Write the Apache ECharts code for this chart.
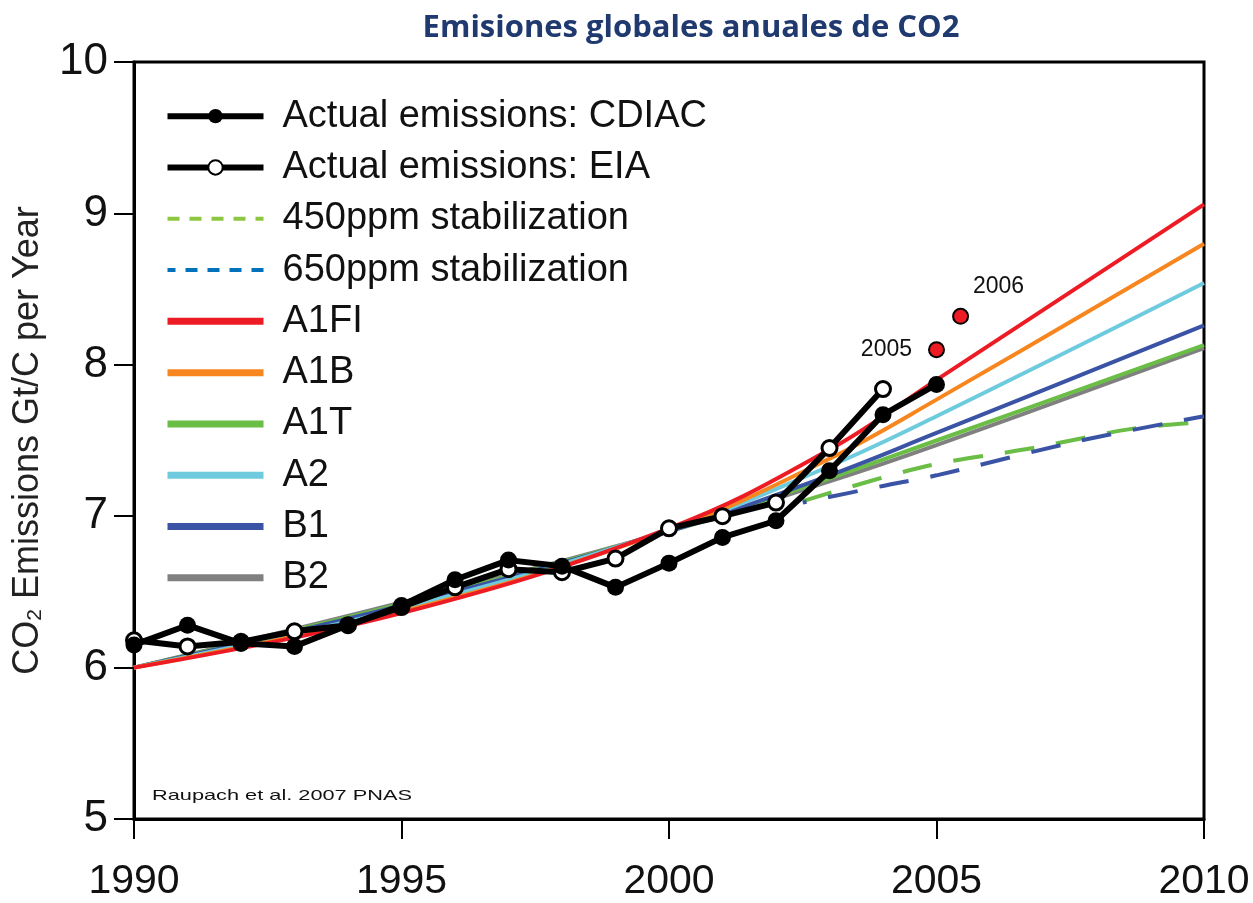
<!DOCTYPE html>
<html>
<head>
<meta charset="utf-8">
<script src="https://cdn.jsdelivr.net/npm/echarts@6/dist/echarts.min.js"></script>
<style>
  html, body { margin: 0; padding: 0; background: #fff; }
  #chart { width: 1253px; height: 903px; }
</style>
</head>
<body>
<div id="chart"></div>
<script>
// datos
var years = [1990, 1991, 1992, 1993, 1994, 1995, 1996, 1997, 1998, 1999, 2000, 2001, 2002, 2003, 2004, 2005];
var cdiac = [6.15, 6.28, 6.16, 6.14, 6.28, 6.41, 6.58, 6.71, 6.67, 6.53, 6.69, 6.86, 6.97, 7.30, 7.67, 7.87];
var eia = [6.18, 6.14, 6.17, 6.24, 6.28, 6.40, 6.53, 6.65, 6.63, 6.72, 6.92, 7.00, 7.09, 7.45, 7.84];

var scenYears = [1990, 1995, 2000, 2003, 2005, 2010];
var a1fi = [6.00, 6.36, 6.92, 7.44, 7.90, 9.06];
var a1b  = [6.00, 6.37, 6.91, 7.38, 7.77, 8.80];
var a1t  = [6.00, 6.42, 6.90, 7.25, 7.50, 8.13];
var a2   = [6.00, 6.39, 6.91, 7.33, 7.66, 8.54];
var b1   = [6.00, 6.41, 6.90, 7.27, 7.55, 8.26];
var b2   = [6.00, 6.43, 6.90, 7.23, 7.47, 8.11];

var years450 = [2002.5, 2004.8, 2006.8, 2008.7, 2010];
var ppm450 = [7.10, 7.33, 7.45, 7.58, 7.62];
var years650 = [2002.5, 2004, 2005, 2007.7, 2010];
var ppm650 = [7.09, 7.20, 7.27, 7.50, 7.66];

var obsLabels = ['2005', '2006'];
var obsYears = [2005, 2005.45];
var obsValues = [8.10, 8.32];

var xTicks = [1990, 1995, 2000, 2005, 2010];
var yTicks = [5, 6, 7, 8, 9, 10];

function pairs(xs, ys) {
  return ys.map(function (v, i) { return [xs[i], v]; });
}

var FONT = "'Liberation Sans', Arial, sans-serif";

var chart = echarts.init(document.getElementById('chart'));

function scen(name, color, vals) {
  return {
    name: name, type: 'line', data: pairs(scenYears, vals),
    smooth: 0.4, showSymbol: false, symbol: 'none', z: 2,
    lineStyle: { color: color, width: 4 }, itemStyle: { color: color }
  };
}

// sin simbolo en la leyenda para las lineas de escenario
var noDot = { color: 'transparent', borderWidth: 0, opacity: 0 };
function legLine(name, extra) {
  var ls = { width: 7 };
  if (extra) { for (var k in extra) ls[k] = extra[k]; }
  return { name: name, itemStyle: noDot, lineStyle: ls };
}

var option = {
  animation: false,
  backgroundColor: '#fff',
  title: {
    text: 'Emisiones globales anuales de CO2',
    left: 686, top: 8, textAlign: 'center',
    textStyle: { fontFamily: '"Open Sans", Lato, sans-serif', fontWeight: 'bold', fontSize: 31, color: '#203A70' }
  },
  grid: { left: 134, right: 49, top: 62, bottom: 84, show: true, borderColor: '#000', borderWidth: 3, backgroundColor: 'transparent' },
  legend: {
    left: 159, top: 92, orient: 'vertical',
    itemWidth: 96, itemHeight: 18, itemGap: 13,
    textStyle: { fontFamily: FONT, fontSize: 38, color: '#111', lineHeight: 38.3, padding: [0, 0, 0, 14] },
    data: [
      { name: 'Actual emissions: CDIAC', lineStyle: { width: 6 } },
      { name: 'Actual emissions: EIA', lineStyle: { width: 6 } },
      legLine('450ppm stabilization', { type: [12, 10], width: 4, color: '#8DC63F' }),
      legLine('650ppm stabilization', { type: [12, 10], width: 4, color: '#0072BC' }),
      legLine('A1FI'), legLine('A1B'), legLine('A1T'), legLine('A2'), legLine('B1'), legLine('B2')
    ]
  },
  xAxis: {
    type: 'value', min: 1990, max: 2010, interval: 5,
    axisLine: { show: true, lineStyle: { color: '#000', width: 3 } },
    axisTick: { show: true, length: 20, lineStyle: { color: '#000', width: 2 } },
    axisLabel: { margin: 42, fontFamily: FONT, fontSize: 41, color: '#111',
      formatter: function (v) { return xTicks.indexOf(v) >= 0 ? String(v) : ''; } },
    splitLine: { show: false }
  },
  yAxis: {
    type: 'value', min: 5, max: 10, interval: 1,
    name: 'CO{sub|2} Emissions Gt/C per Year',
    nameLocation: 'middle', nameGap: 88, nameRotate: 90,
    nameTextStyle: { fontFamily: FONT, fontSize: 36, color: '#222',
      rich: { sub: { fontSize: 21, verticalAlign: 'bottom', fontFamily: FONT, color: '#222' } } },
    axisLine: { show: true, lineStyle: { color: '#000', width: 3 } },
    axisTick: { show: true, length: 20, lineStyle: { color: '#000', width: 2 } },
    axisLabel: { margin: 26, fontFamily: FONT, fontSize: 44, color: '#111',
      formatter: function (v) { return yTicks.indexOf(v) >= 0 ? String(v) : ''; } },
    splitLine: { show: false }
  },
  graphic: [{
    type: 'text', left: 152, top: 788, scaleX: 1.45, z: 10,
    style: { text: 'Raupach et al. 2007 PNAS', fontFamily: FONT, fontSize: 15, fill: '#111' }
  }],
  series: [
    scen('B2', '#808080', b2),
    scen('A1T', '#6ABD45', a1t),
    scen('B1', '#3A53A4', b1),
    scen('A2', '#6DCBDD', a2),
    scen('A1B', '#F7861F', a1b),
    scen('A1FI', '#ED1C24', a1fi),
    {
      name: '450ppm stabilization', type: 'line', data: pairs(years450, ppm450),
      smooth: 0.3, showSymbol: false, symbol: 'none', z: 2,
      lineStyle: { color: '#6ABD45', width: 4, type: [30, 22] }, itemStyle: { color: '#8DC63F' }
    },
    {
      name: '650ppm stabilization', type: 'line', data: pairs(years650, ppm650),
      smooth: 0.3, showSymbol: false, symbol: 'none', z: 2,
      lineStyle: { color: '#3A53A4', width: 4, type: [30, 22], dashOffset: 26 }, itemStyle: { color: '#0072BC' }
    },
    {
      name: 'Actual emissions: EIA', type: 'line', data: pairs(years, eia), z: 4,
      symbol: 'circle', symbolSize: 15, showSymbol: true,
      lineStyle: { color: '#000', width: 6 },
      itemStyle: { color: '#fff', borderColor: '#000', borderWidth: 3 }
    },
    {
      name: 'Actual emissions: CDIAC', type: 'line', data: pairs(years, cdiac), z: 5,
      symbol: 'circle', symbolSize: 17, showSymbol: true,
      lineStyle: { color: '#000', width: 6 },
      itemStyle: { color: '#000' }
    },
    {
      name: 'obs', type: 'scatter', z: 6,
      data: obsLabels.map(function (t, i) {
        return {
          value: [obsYears[i], obsValues[i]],
          label: i === 0
            ? { show: true, position: 'left', distance: 16, formatter: t }
            : { show: true, position: 'inside', offset: [38, -30], formatter: t }
        };
      }),
      symbolSize: 15,
      itemStyle: { color: '#ED1C24', borderColor: '#000', borderWidth: 2, opacity: 1 },
      label: { fontFamily: FONT, fontSize: 23, color: '#111' }
    }
  ]
};

chart.setOption(option);
</script>
</body>
</html>
